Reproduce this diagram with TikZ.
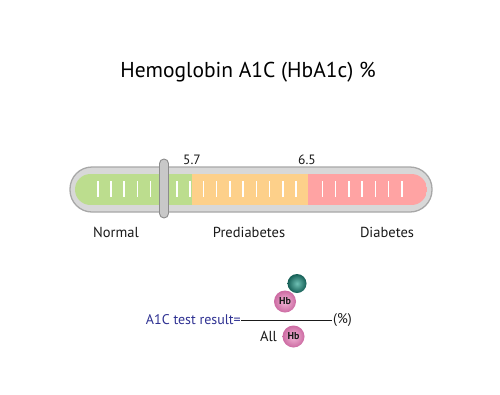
\documentclass[tikz,border=0pt]{standalone}
\usepackage{fontspec}
\setmainfont{PT Sans}
\definecolor{barfill}{HTML}{D8D8D8}
\definecolor{bardraw}{HTML}{A8A8A8}
\definecolor{cgreen}{HTML}{BCDD8E}
\definecolor{corange}{HTML}{FDD08A}
\definecolor{cred}{HTML}{FFA3A3}
\definecolor{slfill}{HTML}{C8C8C8}
\definecolor{sldraw}{HTML}{8C8C8C}
\definecolor{hbin}{HTML}{F3B8D8}
\definecolor{hbout}{HTML}{CC6AA2}
\definecolor{tealin}{HTML}{6FC0B4}
\definecolor{tealout}{HTML}{155F56}
\definecolor{fblue}{HTML}{2E3192}
\definecolor{txt}{HTML}{1A1A1A}
\begin{document}
\begin{tikzpicture}[x=1pt,y=-1pt,
  lbl/.style={font=\fontsize{14.5}{16}\selectfont, text=txt, inner sep=0pt},
  val/.style={font=\fontsize{13.5}{15}\selectfont, text=txt, inner sep=0pt},
  tick/.style={white, line width=1.6pt},
  hbball/.style={circle, inner color=hbin, outer color=hbout, minimum size=22pt, inner sep=0pt,
     font=\bfseries\fontsize{10}{11}\selectfont, text=txt}]
\useasboundingbox[fill=white] (0,0) rectangle (500,394);
% title
\node[font=\fontsize{21.5}{24}\selectfont, text=black, inner sep=0pt] (title) at (248,72) {Hemoglobin A1C (HbA1c) \%};
% bar
\draw[fill=barfill, draw=bardraw, line width=1.3pt, rounded corners=22pt] (70,167) rectangle (432,212);
\begin{scope}
  \clip[rounded corners=15.5pt] (75,174) rectangle (427,205);
  \fill[cgreen] (75,174) rectangle (192,205);
  \fill[corange] (192,174) rectangle (308,205);
  \fill[cred] (308,174) rectangle (427,205);
\end{scope}
\foreach \i in {0,...,23}{
  \ifnum\i=16\else
  \draw[tick] ({97.7+13.22*\i},181) -- ({97.7+13.22*\i},197);
  \fi
}
% slider
\draw[fill=slfill, draw=sldraw, line width=0.9pt, rounded corners=4.5pt] (159.5,159) rectangle (168.5,218);
% values
\node[val] (v57) at (192,160) {5.7};
\node[val] (v65) at (307,160) {6.5};
% labels
\node[lbl] (normal) at (116,232) {Normal};
\node[lbl] (pre) at (249,232) {Prediabetes};
\node[lbl] (dia) at (387,232) {Diabetes};
% formula
\node[font=\fontsize{14}{16}\selectfont, text=fblue, inner sep=0pt, anchor=east] (res) at (241,320) {A1C test result=};
\coordinate (fracR) at (332,320);
\draw[txt, line width=0.8pt] (res.east) -- (fracR);
\node[font=\fontsize{14}{16}\selectfont, text=txt, inner sep=0pt, anchor=west] (pct) at (333,320) {(\%)};
\node[hbball] (hbtop) at (285,301.5) {Hb};
\node[circle, inner color=tealin, outer color=tealout, minimum size=19pt, inner sep=0pt] (glu) at (297,283.5) {};
\node[font=\fontsize{14.5}{16}\selectfont, text=txt, inner sep=0pt] (all) at (268.5,336.5) {All};
\node[hbball] (hbbot) at (293.5,336.5) {Hb};
\end{tikzpicture}
\end{document}
